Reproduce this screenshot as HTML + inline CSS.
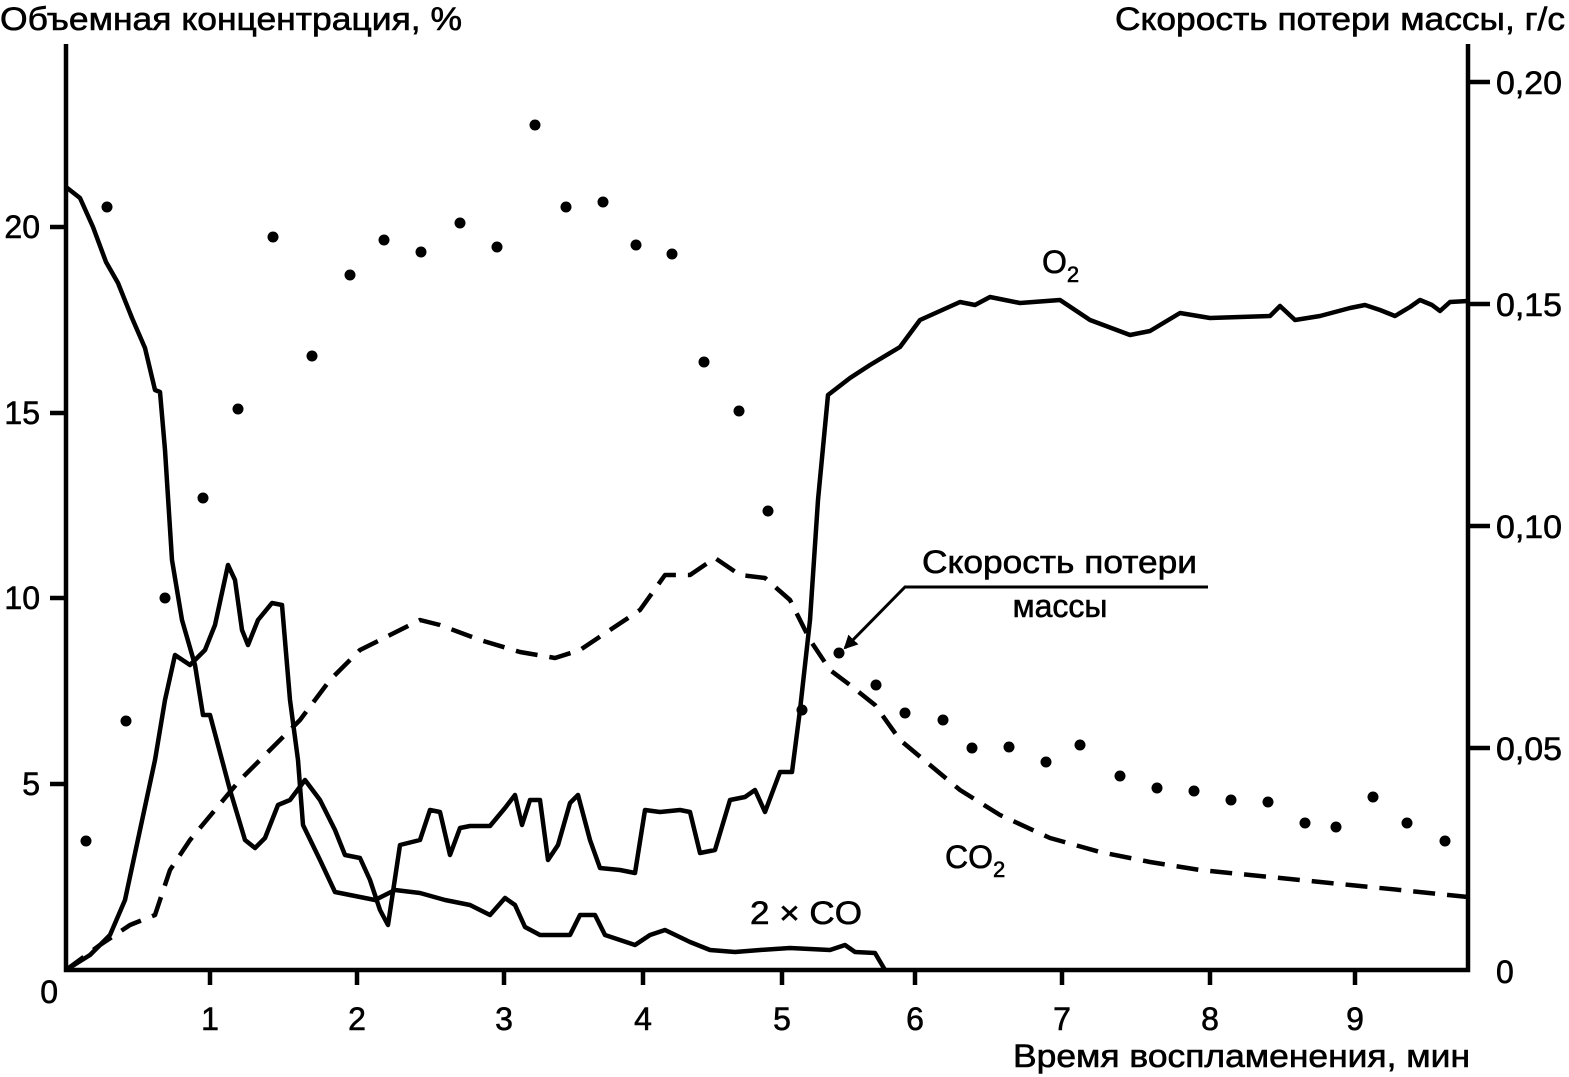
<!DOCTYPE html>
<html><head><meta charset="utf-8"><style>
html,body{margin:0;padding:0;background:#fff;}
svg{display:block;font-family:"Liberation Sans",sans-serif;}
</style></head><body>
<svg width="1569" height="1077" viewBox="0 0 1569 1077" xmlns="http://www.w3.org/2000/svg">
<defs><marker id="ah" markerWidth="14" markerHeight="14" refX="12" refY="7" orient="auto" markerUnits="userSpaceOnUse"><path d="M0,0 L14,7 L0,14 z" fill="#000"/></marker></defs>
<g stroke="#000" stroke-width="4.5" fill="none">
<path d="M66,44 L66,970 L1468,970 L1468,44"/>
<path d="M210,970 V985 M357,970 V985 M504,970 V985 M643,970 V985 M782,970 V985 M915,970 V985 M1062,970 V985 M1210,970 V985 M1355,970 V985"/>
<path d="M66,784 H50 M66,598 H50 M66,413 H50 M66,227 H50"/>
<path d="M1468,82 H1490 M1468,304 H1490 M1468,526 H1490 M1468,748 H1490"/>
</g>
<g font-size="32" fill="#000" stroke="#000" stroke-width="0.6">
<text x="0" y="30" textLength="462" lengthAdjust="spacingAndGlyphs">Объемная концентрация, %</text>
<text x="1115" y="30" textLength="450" lengthAdjust="spacingAndGlyphs">Скорость потери массы, г/с</text>
<text x="1013" y="1067" textLength="457" lengthAdjust="spacingAndGlyphs">Время воспламенения, мин</text>
<g text-anchor="end"><text x="40" y="795">5</text><text x="40" y="609">10</text><text x="40" y="424">15</text><text x="40" y="238">20</text><text x="58" y="1003">0</text></g>
<g text-anchor="middle"><text x="210" y="1030">1</text><text x="357" y="1030">2</text><text x="504" y="1030">3</text><text x="643" y="1030">4</text><text x="782" y="1030">5</text><text x="915" y="1030">6</text><text x="1062" y="1030">7</text><text x="1210" y="1030">8</text><text x="1355" y="1030">9</text></g>
<g><text x="1496" y="94" textLength="66" lengthAdjust="spacingAndGlyphs">0,20</text><text x="1496" y="316" textLength="66" lengthAdjust="spacingAndGlyphs">0,15</text><text x="1496" y="538" textLength="66" lengthAdjust="spacingAndGlyphs">0,10</text><text x="1496" y="760" textLength="66" lengthAdjust="spacingAndGlyphs">0,05</text><text x="1496" y="983">0</text></g>
<text x="1042" y="273">O<tspan font-size="22" dy="9">2</tspan></text>
<text x="945" y="868">CO<tspan font-size="22" dy="9">2</tspan></text>
<text x="750" y="924" textLength="112" lengthAdjust="spacingAndGlyphs">2 × CO</text>
<text x="922" y="573" textLength="275" lengthAdjust="spacingAndGlyphs">Скорость потери</text>
<text x="1060" y="617" text-anchor="middle">массы</text>
</g>
<g stroke="#000" stroke-width="3" fill="none">
<path d="M1208,587 H905 L845,648" marker-end="url(#ah)"/>
</g>
<g stroke="#000" stroke-width="4.5" fill="none" stroke-linejoin="round">
<path d="M66,187 L80,198 L93,227 L106,262 L118,283 L132,318 L145,348 L155,390 L160,392 L165,450 L172,560 L182,620 L195,665 L203,715 L210,715 L230,790 L245,840 L255,848 L265,838 L278,805 L290,800 L305,780 L320,800 L335,830 L345,855 L360,858 L370,880 L380,910 L388,925 L400,845 L420,840 L430,810 L440,812 L450,855 L460,828 L470,826 L480,826 L490,826 L505,808 L515,795 L522,825 L530,800 L540,800 L548,860 L558,845 L570,803 L578,795 L590,840 L600,868 L620,870 L635,873 L645,810 L660,812 L680,810 L690,812 L700,853 L715,850 L730,800 L745,797 L755,790 L765,812 L780,772 L792,772 L800,710 L810,620 L818,500 L828,395 L850,378 L870,365 L900,347 L920,320 L960,302 L975,305 L990,297 L1020,303 L1060,300 L1090,320 L1130,335 L1150,331 L1180,313 L1210,318 L1270,316 L1280,306 L1295,320 L1320,316 L1350,308 L1365,305 L1380,310 L1395,316 L1410,307 L1420,300 L1432,305 L1440,311 L1450,302 L1468,301"/>
<path d="M66,970 L90,955 L110,935 L125,900 L140,830 L155,760 L165,700 L175,655 L190,665 L205,650 L215,625 L228,565 L235,580 L242,630 L248,645 L258,620 L272,603 L282,605 L290,700 L298,760 L303,825 L320,860 L335,892 L350,895 L375,900 L395,890 L420,893 L445,900 L470,905 L490,915 L505,898 L515,905 L525,927 L540,935 L570,935 L580,915 L595,915 L605,935 L635,945 L650,935 L665,930 L690,942 L710,950 L735,952 L760,950 L790,948 L830,950 L845,945 L855,952 L875,953 L885,970"/>
<path stroke-dasharray="22,12" d="M66,970 L100,945 L130,925 L155,915 L170,870 L190,840 L215,810 L240,780 L270,750 L300,720 L330,680 L360,650 L390,635 L420,620 L440,625 L480,640 L520,652 L555,658 L580,650 L610,630 L640,610 L665,575 L690,575 L715,558 L740,575 L765,578 L790,600 L810,640 L830,670 L850,685 L875,705 L900,740 L930,765 L960,790 L1000,815 L1050,838 L1100,852 L1150,862 L1200,870 L1250,875 L1300,880 L1350,885 L1400,890 L1468,897"/>
</g>
<g fill="#000">
<circle cx="86" cy="841" r="5.5"/><circle cx="107" cy="207" r="5.5"/><circle cx="126" cy="721" r="5.5"/><circle cx="165" cy="598" r="5.5"/><circle cx="203" cy="498" r="5.5"/><circle cx="238" cy="409" r="5.5"/><circle cx="273" cy="237" r="5.5"/><circle cx="312" cy="356" r="5.5"/><circle cx="350" cy="275" r="5.5"/><circle cx="384" cy="240" r="5.5"/><circle cx="421" cy="252" r="5.5"/><circle cx="460" cy="223" r="5.5"/><circle cx="497" cy="247" r="5.5"/><circle cx="535" cy="125" r="5.5"/><circle cx="566" cy="207" r="5.5"/><circle cx="603" cy="202" r="5.5"/><circle cx="636" cy="245" r="5.5"/><circle cx="672" cy="254" r="5.5"/><circle cx="704" cy="362" r="5.5"/><circle cx="739" cy="411" r="5.5"/><circle cx="768" cy="511" r="5.5"/><circle cx="802" cy="710" r="5.5"/><circle cx="839" cy="653" r="5.5"/><circle cx="876" cy="685" r="5.5"/><circle cx="905" cy="713" r="5.5"/><circle cx="943" cy="720" r="5.5"/><circle cx="972" cy="748" r="5.5"/><circle cx="1009" cy="747" r="5.5"/><circle cx="1046" cy="762" r="5.5"/><circle cx="1080" cy="745" r="5.5"/><circle cx="1120" cy="776" r="5.5"/><circle cx="1157" cy="788" r="5.5"/><circle cx="1194" cy="791" r="5.5"/><circle cx="1231" cy="800" r="5.5"/><circle cx="1268" cy="802" r="5.5"/><circle cx="1305" cy="823" r="5.5"/><circle cx="1336" cy="827" r="5.5"/><circle cx="1373" cy="797" r="5.5"/><circle cx="1407" cy="823" r="5.5"/><circle cx="1445" cy="841" r="5.5"/>
</g>
</svg>
</body></html>
